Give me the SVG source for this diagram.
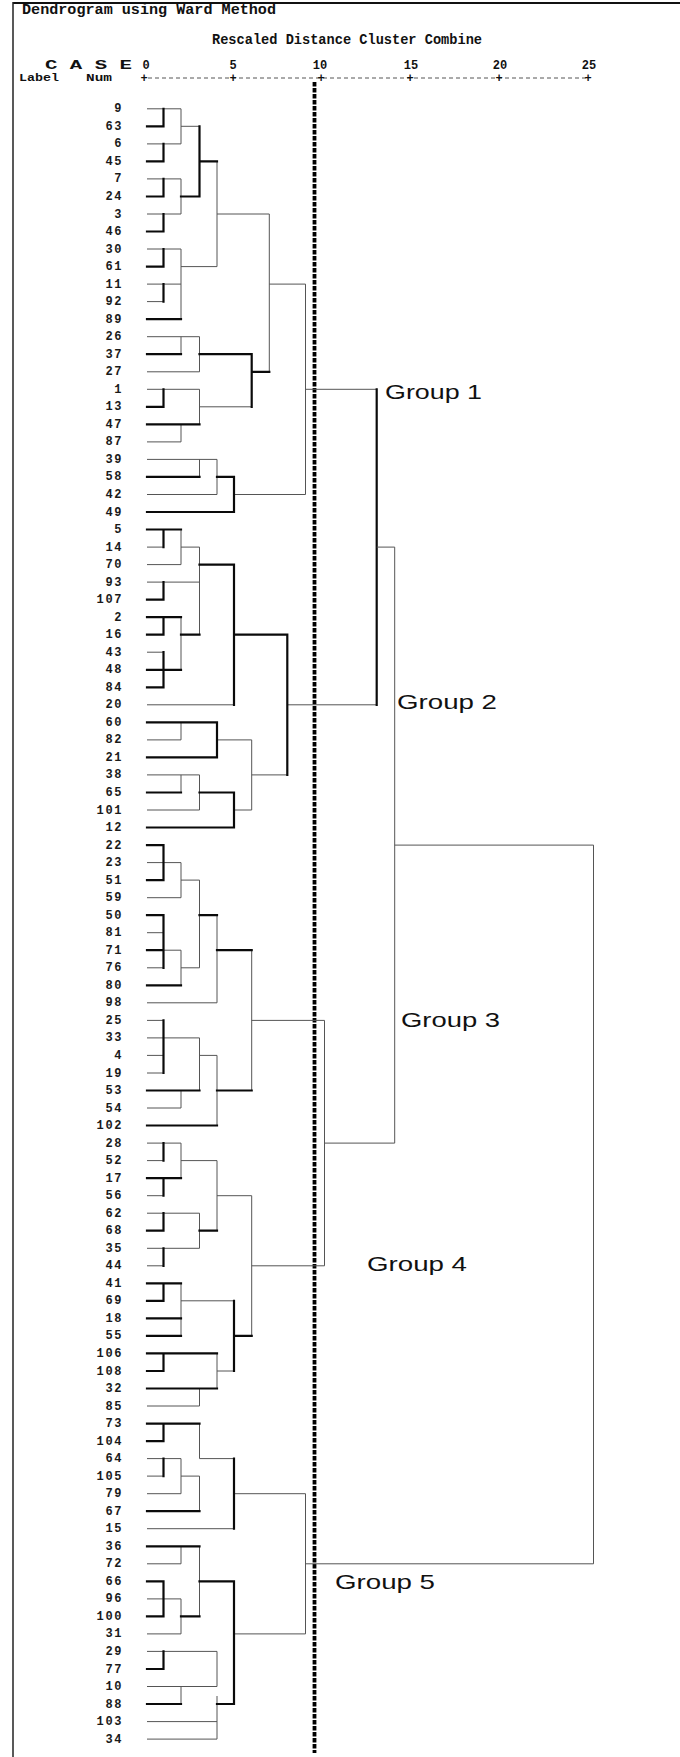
<svg xmlns="http://www.w3.org/2000/svg" width="680" height="1757" viewBox="0 0 680 1757">
<style>
.b{stroke:#0a0a0a;stroke-width:2.2;fill:none;stroke-linecap:square}
.t{stroke:#555;stroke-width:1;fill:none}
.lbl{font-family:"Liberation Mono",monospace;font-weight:bold;font-size:12px;letter-spacing:1.6px;fill:#1a1a1a;text-anchor:end}
.hdr{font-family:"Liberation Mono",monospace;font-weight:bold;fill:#111}
.tick{font-family:"Liberation Mono",monospace;font-weight:bold;font-size:12px;fill:#111;text-anchor:middle}
.grp{font-family:"Liberation Sans",Arial,sans-serif;font-size:21px;fill:#111}
</style>
<rect width="680" height="1757" fill="#fff"/>
<g id="frame">
<line x1="13" y1="3" x2="680" y2="3" stroke="#111" stroke-width="2.2"/>
<line x1="13" y1="2" x2="13" y2="1757" stroke="#222" stroke-width="1.5"/>
</g>
<g id="header">
<text class="hdr" x="22" y="14" font-size="15" textLength="254" lengthAdjust="spacingAndGlyphs">Dendrogram using Ward Method</text>
<text class="hdr" x="212" y="44" font-size="14" textLength="270" lengthAdjust="spacingAndGlyphs">Rescaled Distance Cluster Combine</text>
<text class="hdr" x="45" y="69" font-size="13" textLength="87" lengthAdjust="spacingAndGlyphs">C A S E</text>
<text class="hdr" x="19" y="81" font-size="11" textLength="40" lengthAdjust="spacingAndGlyphs">Label</text>
<text class="hdr" x="86" y="81" font-size="11" textLength="26" lengthAdjust="spacingAndGlyphs">Num</text>
<text class="tick" x="146" y="69">0</text>
<text class="tick" x="233" y="69">5</text>
<text class="tick" x="320" y="69">10</text>
<text class="tick" x="411" y="69">15</text>
<text class="tick" x="500" y="69">20</text>
<text class="tick" x="589" y="69">25</text>
<line x1="148" y1="78" x2="586" y2="78" stroke="#555" stroke-width="1" stroke-dasharray="4 3"/>
<text class="tick" x="144" y="82">+</text>
<text class="tick" x="233" y="82">+</text>
<text class="tick" x="321" y="82">+</text>
<text class="tick" x="410" y="82">+</text>
<text class="tick" x="499" y="82">+</text>
<text class="tick" x="588" y="82">+</text>
</g>
<g id="cutline">
<line x1="314.5" y1="82" x2="314.5" y2="1753" stroke="#000" stroke-width="3.8" stroke-dasharray="4.5 1.5"/>
</g>
<g id="connectors">
<path class="t" d="M147 108.8H181M181 108.8V143.9M181 126.3H199.5M147 143.9H181M147 178.9H181M181 178.9V214M147 214H181M217 161.4V266.6M217 214H269.3M147 249H181M181 249V319.2M181 266.6H217M147 284.1H181M147 301.6H163.5M269.3 214V371.8M269.3 284.1H305.5M305.5 284.1V494.5M147 336.7H199.5M181 336.7V354.2M199.5 336.7V371.8M147 371.8H199.5M147 389.3H199.5M199.5 389.3V424.3M199.5 406.8H251.7M181 424.3V441.9M147 441.9H181M305.5 389.3H376.7M147 459.4H217M199.5 459.4V476.9M217 459.4V494.5M147 494.5H217M234 494.5H305.5"/>
<path class="b" d="M147 126.3H163.5M163.5 108.8V126.3M163.5 143.9V161.4M147 161.4H163.5M199.5 126.3V196.5M199.5 161.4H217M163.5 178.9V196.5M147 196.5H163.5M181 196.5H199.5M163.5 214V231.5M147 231.5H163.5M163.5 249V266.6M147 266.6H163.5M163.5 284.1V301.6M147 319.2H181M147 354.2H181M199.5 354.2H251.7M251.7 354.2V406.8M251.7 371.8H269.3M163.5 389.3V406.8M147 406.8H163.5M147 424.3H199.5M147 476.9H199.5M217 476.9H234M234 476.9V512M147 512H234"/>
<path class="t" d="M147 547.1H163.5M181 529.5V564.6M147 564.6H181M181 547.1H199.5M199.5 547.1V634.7M147 582.1H199.5M181 617.2V669.8M147 652.2H163.5M147 704.8H234M287.3 704.8H376.7M181 722.4V739.9M147 739.9H181M217 739.9H251.7M251.7 739.9V810M251.7 774.9H287.3M147 774.9H199.5M181 774.9V792.5M199.5 774.9V810M147 810H199.5M234 810H251.7"/>
<path class="b" d="M147 529.5H181M163.5 529.5V547.1M199.5 564.6H234M163.5 582.1V599.6M147 599.6H163.5M147 617.2H181M163.5 617.2V634.7M147 634.7H163.5M181 634.7H199.5M163.5 652.2V687.3M147 669.8H181M147 687.3H163.5M234 564.6V704.8M234 634.7H287.3M287.3 634.7V774.9M147 722.4H217M217 722.4V757.4M147 757.4H217M147 792.5H181M199.5 792.5H234M234 792.5V827.5M147 827.5H234"/>
<path class="b" d="M376.7 389.3V704.8"/>
<path class="t" d="M376.7 547.1H394.7M394.7 547.1V1143.1M394.7 845.1H593.5M593.5 845.1V1563.8M305.5 1563.8H593.5M324.5 1143.1H394.7"/>
<path class="t" d="M147 862.6H181M181 862.6V897.7M181 880.1H199.5M147 897.7H181M199.5 880.1V967.8M147 932.7H163.5M163.5 950.2H181M181 950.2V985.3M147 967.8H163.5M181 967.8H199.5M217 915.2V1002.8M147 1002.8H217M251.7 950.2V1090.5M251.7 1020.4H324.5M147 1020.4H163.5M147 1037.9H199.5M147 1055.4H163.5M147 1073H163.5M199.5 1037.9V1090.5M199.5 1055.4H217M181 1090.5V1108M147 1108H181M217 1055.4V1125.5"/>
<path class="b" d="M147 845.1H163.5M163.5 845.1V880.1M147 880.1H163.5M147 915.2H163.5M163.5 915.2V967.8M199.5 915.2H217M147 950.2H163.5M147 985.3H181M217 950.2H251.7M163.5 1020.4V1073M147 1090.5H199.5M147 1125.5H217M217 1090.5H251.7"/>
<path class="t" d="M147 1143.1H181M147 1160.6H163.5M181 1143.1V1178.1M181 1160.6H217M147 1195.7H163.5M217 1160.6V1230.7M217 1195.7H251.7M147 1213.2H199.5M199.5 1213.2V1248.3M147 1248.3H199.5M147 1265.8H163.5M251.7 1265.8H324.5M324.5 1020.4V1265.8M251.7 1195.7V1335.9M181 1283.3V1335.9M181 1300.8H234M217 1353.4V1388.5M217 1371H234M199.5 1388.5V1406M147 1406H199.5"/>
<path class="b" d="M163.5 1143.1V1160.6M147 1178.1H181M163.5 1178.1V1195.7M163.5 1213.2V1230.7M147 1230.7H163.5M199.5 1230.7H217M163.5 1248.3V1265.8M147 1283.3H181M163.5 1283.3V1300.8M147 1300.8H163.5M147 1318.4H181M147 1335.9H181M234 1300.8V1371M234 1335.9H251.7M147 1353.4H217M163.5 1353.4V1371M147 1371H163.5M147 1388.5H217"/>
<path class="t" d="M199.5 1423.6V1458.6M199.5 1458.6H234M147 1458.6H181M147 1476.1H163.5M181 1458.6V1493.7M181 1476.1H199.5M147 1493.7H181M199.5 1476.1V1511.2M147 1528.7H234M234 1493.7H305.5M305.5 1493.7V1633.9M181 1546.3V1563.8M147 1563.8H181M199.5 1546.3V1616.4M147 1598.9H181M181 1598.9V1633.9M147 1633.9H181M234 1633.9H305.5M147 1651.4H217M217 1651.4V1686.5M147 1686.5H217M181 1686.5V1704M217 1696V1739.1M147 1721.6H217M147 1739.1H217"/>
<path class="b" d="M147 1423.6H199.5M163.5 1423.6V1441.1M147 1441.1H163.5M163.5 1458.6V1476.1M147 1511.2H199.5M234 1458.6V1528.7M147 1546.3H199.5M199.5 1581.3H234M147 1581.3H163.5M163.5 1581.3V1616.4M147 1616.4H163.5M181 1616.4H199.5M234 1581.3V1704M163.5 1651.4V1669M147 1669H163.5M147 1704H181M217 1704H234"/>
</g>
<g id="leaves">
<g id="leaf-9"><text class="lbl" x="123" y="112.3">9</text></g>
<g id="leaf-63"><text class="lbl" x="123" y="129.8">63</text></g>
<g id="leaf-6"><text class="lbl" x="123" y="147.4">6</text></g>
<g id="leaf-45"><text class="lbl" x="123" y="164.9">45</text></g>
<g id="leaf-7"><text class="lbl" x="123" y="182.4">7</text></g>
<g id="leaf-24"><text class="lbl" x="123" y="200">24</text></g>
<g id="leaf-3"><text class="lbl" x="123" y="217.5">3</text></g>
<g id="leaf-46"><text class="lbl" x="123" y="235">46</text></g>
<g id="leaf-30"><text class="lbl" x="123" y="252.5">30</text></g>
<g id="leaf-61"><text class="lbl" x="123" y="270.1">61</text></g>
<g id="leaf-11"><text class="lbl" x="123" y="287.6">11</text></g>
<g id="leaf-92"><text class="lbl" x="123" y="305.1">92</text></g>
<g id="leaf-89"><text class="lbl" x="123" y="322.7">89</text></g>
<g id="leaf-26"><text class="lbl" x="123" y="340.2">26</text></g>
<g id="leaf-37"><text class="lbl" x="123" y="357.7">37</text></g>
<g id="leaf-27"><text class="lbl" x="123" y="375.3">27</text></g>
<g id="leaf-1"><text class="lbl" x="123" y="392.8">1</text></g>
<g id="leaf-13"><text class="lbl" x="123" y="410.3">13</text></g>
<g id="leaf-47"><text class="lbl" x="123" y="427.8">47</text></g>
<g id="leaf-87"><text class="lbl" x="123" y="445.4">87</text></g>
<g id="leaf-39"><text class="lbl" x="123" y="462.9">39</text></g>
<g id="leaf-58"><text class="lbl" x="123" y="480.4">58</text></g>
<g id="leaf-42"><text class="lbl" x="123" y="498">42</text></g>
<g id="leaf-49"><text class="lbl" x="123" y="515.5">49</text></g>
<g id="leaf-5"><text class="lbl" x="123" y="533">5</text></g>
<g id="leaf-14"><text class="lbl" x="123" y="550.6">14</text></g>
<g id="leaf-70"><text class="lbl" x="123" y="568.1">70</text></g>
<g id="leaf-93"><text class="lbl" x="123" y="585.6">93</text></g>
<g id="leaf-107"><text class="lbl" x="123" y="603.1">107</text></g>
<g id="leaf-2"><text class="lbl" x="123" y="620.7">2</text></g>
<g id="leaf-16"><text class="lbl" x="123" y="638.2">16</text></g>
<g id="leaf-43"><text class="lbl" x="123" y="655.7">43</text></g>
<g id="leaf-48"><text class="lbl" x="123" y="673.3">48</text></g>
<g id="leaf-84"><text class="lbl" x="123" y="690.8">84</text></g>
<g id="leaf-20"><text class="lbl" x="123" y="708.3">20</text></g>
<g id="leaf-60"><text class="lbl" x="123" y="725.9">60</text></g>
<g id="leaf-82"><text class="lbl" x="123" y="743.4">82</text></g>
<g id="leaf-21"><text class="lbl" x="123" y="760.9">21</text></g>
<g id="leaf-38"><text class="lbl" x="123" y="778.4">38</text></g>
<g id="leaf-65"><text class="lbl" x="123" y="796">65</text></g>
<g id="leaf-101"><text class="lbl" x="123" y="813.5">101</text></g>
<g id="leaf-12"><text class="lbl" x="123" y="831">12</text></g>
<g id="leaf-22"><text class="lbl" x="123" y="848.6">22</text></g>
<g id="leaf-23"><text class="lbl" x="123" y="866.1">23</text></g>
<g id="leaf-51"><text class="lbl" x="123" y="883.6">51</text></g>
<g id="leaf-59"><text class="lbl" x="123" y="901.2">59</text></g>
<g id="leaf-50"><text class="lbl" x="123" y="918.7">50</text></g>
<g id="leaf-81"><text class="lbl" x="123" y="936.2">81</text></g>
<g id="leaf-71"><text class="lbl" x="123" y="953.7">71</text></g>
<g id="leaf-76"><text class="lbl" x="123" y="971.3">76</text></g>
<g id="leaf-80"><text class="lbl" x="123" y="988.8">80</text></g>
<g id="leaf-98"><text class="lbl" x="123" y="1006.3">98</text></g>
<g id="leaf-25"><text class="lbl" x="123" y="1023.9">25</text></g>
<g id="leaf-33"><text class="lbl" x="123" y="1041.4">33</text></g>
<g id="leaf-4"><text class="lbl" x="123" y="1058.9">4</text></g>
<g id="leaf-19"><text class="lbl" x="123" y="1076.5">19</text></g>
<g id="leaf-53"><text class="lbl" x="123" y="1094">53</text></g>
<g id="leaf-54"><text class="lbl" x="123" y="1111.5">54</text></g>
<g id="leaf-102"><text class="lbl" x="123" y="1129">102</text></g>
<g id="leaf-28"><text class="lbl" x="123" y="1146.6">28</text></g>
<g id="leaf-52"><text class="lbl" x="123" y="1164.1">52</text></g>
<g id="leaf-17"><text class="lbl" x="123" y="1181.6">17</text></g>
<g id="leaf-56"><text class="lbl" x="123" y="1199.2">56</text></g>
<g id="leaf-62"><text class="lbl" x="123" y="1216.7">62</text></g>
<g id="leaf-68"><text class="lbl" x="123" y="1234.2">68</text></g>
<g id="leaf-35"><text class="lbl" x="123" y="1251.8">35</text></g>
<g id="leaf-44"><text class="lbl" x="123" y="1269.3">44</text></g>
<g id="leaf-41"><text class="lbl" x="123" y="1286.8">41</text></g>
<g id="leaf-69"><text class="lbl" x="123" y="1304.3">69</text></g>
<g id="leaf-18"><text class="lbl" x="123" y="1321.9">18</text></g>
<g id="leaf-55"><text class="lbl" x="123" y="1339.4">55</text></g>
<g id="leaf-106"><text class="lbl" x="123" y="1356.9">106</text></g>
<g id="leaf-108"><text class="lbl" x="123" y="1374.5">108</text></g>
<g id="leaf-32"><text class="lbl" x="123" y="1392">32</text></g>
<g id="leaf-85"><text class="lbl" x="123" y="1409.5">85</text></g>
<g id="leaf-73"><text class="lbl" x="123" y="1427.1">73</text></g>
<g id="leaf-104"><text class="lbl" x="123" y="1444.6">104</text></g>
<g id="leaf-64"><text class="lbl" x="123" y="1462.1">64</text></g>
<g id="leaf-105"><text class="lbl" x="123" y="1479.6">105</text></g>
<g id="leaf-79"><text class="lbl" x="123" y="1497.2">79</text></g>
<g id="leaf-67"><text class="lbl" x="123" y="1514.7">67</text></g>
<g id="leaf-15"><text class="lbl" x="123" y="1532.2">15</text></g>
<g id="leaf-36"><text class="lbl" x="123" y="1549.8">36</text></g>
<g id="leaf-72"><text class="lbl" x="123" y="1567.3">72</text></g>
<g id="leaf-66"><text class="lbl" x="123" y="1584.8">66</text></g>
<g id="leaf-96"><text class="lbl" x="123" y="1602.4">96</text></g>
<g id="leaf-100"><text class="lbl" x="123" y="1619.9">100</text></g>
<g id="leaf-31"><text class="lbl" x="123" y="1637.4">31</text></g>
<g id="leaf-29"><text class="lbl" x="123" y="1654.9">29</text></g>
<g id="leaf-77"><text class="lbl" x="123" y="1672.5">77</text></g>
<g id="leaf-10"><text class="lbl" x="123" y="1690">10</text></g>
<g id="leaf-88"><text class="lbl" x="123" y="1707.5">88</text></g>
<g id="leaf-103"><text class="lbl" x="123" y="1725.1">103</text></g>
<g id="leaf-34"><text class="lbl" x="123" y="1742.6">34</text></g>
</g>
<g id="group-1"><text class="grp" x="385" y="398.5" textLength="97" lengthAdjust="spacingAndGlyphs">Group 1</text></g>
<g id="group-2"><text class="grp" x="397" y="708.5" textLength="100" lengthAdjust="spacingAndGlyphs">Group 2</text></g>
<g id="group-3"><text class="grp" x="401" y="1027" textLength="99" lengthAdjust="spacingAndGlyphs">Group 3</text></g>
<g id="group-4"><text class="grp" x="367" y="1271" textLength="100" lengthAdjust="spacingAndGlyphs">Group 4</text></g>
<g id="group-5"><text class="grp" x="335" y="1589" textLength="100" lengthAdjust="spacingAndGlyphs">Group 5</text></g>
</svg>
